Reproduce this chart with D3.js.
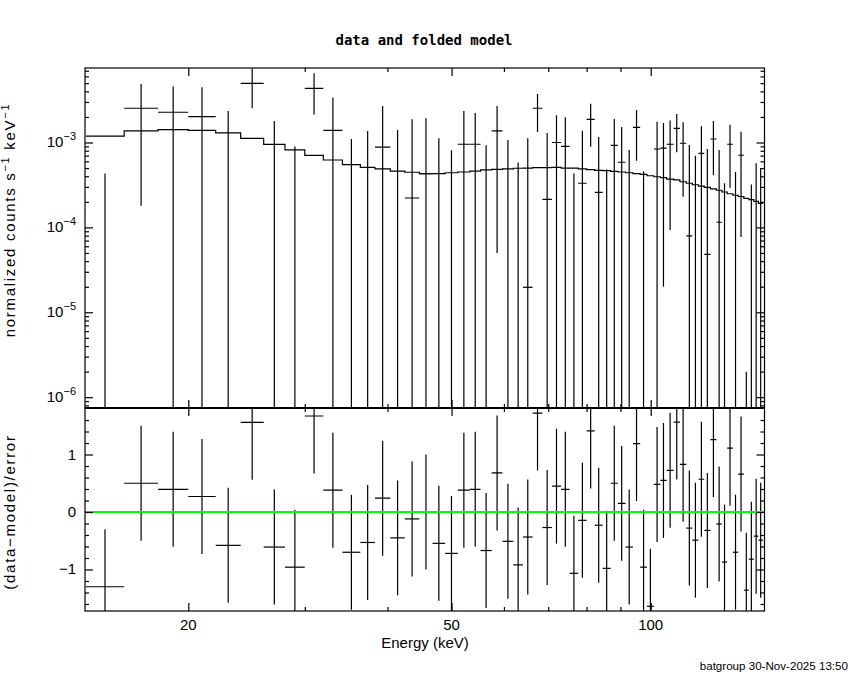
<!DOCTYPE html>
<html>
<head>
<meta charset="utf-8">
<script src="https://cdn.jsdelivr.net/npm/d3@7/dist/d3.min.js"></script>
<style>
body { margin: 0; background: #fff; }
text { font-family: "Liberation Sans", Arial, sans-serif; fill: #000; }
</style>
</head>
<body>
<div id="plot_div"></div>
<script>
// energy bin edges (keV)
var binEdges = [14.0, 16.0, 18.0, 20.0, 22.0, 24.0, 26.0, 28.0, 30.0, 32.0, 34.2, 36.4, 38.3, 40.4, 42.5,
    44.7, 46.8, 48.9, 51.1, 53.3, 55.3, 57.5, 59.7, 62.0, 64.1, 66.3, 68.6, 70.9, 73.2, 75.4,
    77.7, 80.0, 82.3, 84.6, 87.0, 89.2, 91.6, 94.0, 96.4, 98.7, 101.1, 103.4, 105.7, 108.3, 110.7,
    113.2, 115.6, 118.1, 120.5, 123.1, 125.7, 128.1, 130.5, 133.1, 135.6, 138.3, 140.7, 143.2, 145.5, 147.8];
// normalized counts s^-1 keV^-1
var rate = [-2.09e-3, 2.53e-3, 2.27e-3, 2.02e-3, -1.5e-4, 4.98e-3, -3.6e-4, -1.2e-3, 4.34e-3, 1.39e-3,
    -7.4e-4, -4.6e-4, 8.8e-4, -3.1e-4, 2.22e-4, 4.3e-4, -4.0e-4, -5.3e-4, 9.53e-4, 9.53e-4,
    -4.6e-4, 1.37e-3, -1.2e-4, -5.2e-4, 1.97e-5, 2.53e-3, 2.14e-4, 1.0e-3, 9.02e-4, -6.9e-4,
    3.31e-4, 1.87e-3, 2.59e-4, -4.65e-4, 9.27e-4, 5.85e-4, -1.45e-4, 1.51e-3, -4.42e-4, -1.07e-3,
    8.38e-4, 8.6e-4, 9.53e-4, 1.47e-3, 9.8e-4, 7.93e-5, -5.0e-5, 7.46e-4, 4.82e-5, 1.1e-3,
    1.15e-4, -2.2e-4, 9.53e-4, -2.6e-4, 7.07e-4, -6.04e-4, -3.0e-4, -6.1e-5, -1.0e-4];
var rateErr = [2.52e-3, 2.35e-3, 2.31e-3, 2.45e-3, 2.5e-3, 2.45e-3, 2.15e-3, 2.1e-3, 2.2e-3, 2.0e-3,
    1.84e-3, 1.83e-3, 1.81e-3, 1.71e-3, 1.65e-3, 1.5e-3, 1.52e-3, 1.34e-3, 1.4e-3, 1.27e-3,
    1.39e-3, 1.32e-3, 1.19e-3, 1.1e-3, 1.1e-3, 1.2e-3, 1.08e-3, 1.1e-3, 1.08e-3, 1.12e-3,
    1.04e-3, 9.8e-4, 9.0e-4, 9.5e-4, 9.6e-4, 9.35e-4, 9.6e-4, 9.0e-4, 9.0e-4, 9.0e-4,
    9.2e-4, 8.4e-4, 8.6e-4, 7.0e-4, 7.5e-4, 8.56e-4, 7.5e-4, 8.1e-4, 7.9e-4, 6.9e-4,
    7.0e-4, 5.5e-4, 6.6e-4, 7.1e-4, 6.3e-4, 6.06e-4, 6.2e-4, 6.3e-4, 6.0e-4];
// folded model
var model = [1.19e-3, 1.37e-3, 1.42e-3, 1.39e-3, 1.30e-3, 1.12e-3, 9.5e-4, 8.2e-4, 7.07e-4, 6.22e-4,
    5.48e-4, 5.1e-4, 4.88e-4, 4.61e-4, 4.46e-4, 4.3e-4, 4.3e-4, 4.4e-4, 4.49e-4, 4.61e-4,
    4.75e-4, 4.83e-4, 4.88e-4, 4.97e-4, 5.0e-4, 5.05e-4, 5.06e-4, 5.08e-4, 5.0e-4, 5.0e-4,
    4.88e-4, 4.79e-4, 4.7e-4, 4.66e-4, 4.58e-4, 4.49e-4, 4.4e-4, 4.29e-4, 4.22e-4, 4.06e-4,
    3.95e-4, 3.85e-4, 3.71e-4, 3.62e-4, 3.45e-4, 3.31e-4, 3.18e-4, 3.07e-4, 2.96e-4, 2.84e-4,
    2.74e-4, 2.61e-4, 2.49e-4, 2.39e-4, 2.31e-4, 2.2e-4, 2.12e-4, 2.02e-4, 1.92e-4];
// (data-model)/error
var resid = [-1.30, 0.50, 0.395, 0.27, -0.58, 1.56, -0.61, -0.96, 1.67, 0.38,
    -0.70, -0.53, 0.24, -0.45, -0.12, 0.0, -0.545, -0.72, 0.38, 0.395,
    -0.67, 0.68, -0.51, -0.92, -0.435, 1.72, -0.27, 0.45, 0.395, -1.066,
    -0.145, 1.41, -0.23, -0.98, 0.50, 0.15, -0.61, 1.19, -0.96, -1.64,
    0.48, 0.55, 0.725, 1.565, 0.83, -0.28, -0.49, 0.57, -0.32, 1.26,
    -0.21, -0.87, 1.11, -0.70, 0.66, -1.36, -0.82, -0.42, -0.49];

var xMajorTicks = [20, 50, 100];
var xMinorTicks = [30, 40, 60, 70, 80, 90];
var yDecades = [-3, -4, -5, -6];
var residMajorTicks = [-1, 0, 1];

var spec_plot = {
    svg: 0,
    bins: 0,
    x: 0,
    y_top: 0,
    y_bot: 0,
    left: 85,
    right: 764.5,
    top: 68,
    mid: 408,
    bottom: 611,
    initialize: function() {
        var self = this;
        self.svg = d3.select("#plot_div").append("svg")
            .attr("width", 850)
            .attr("height", 680);
        self.bins = [];
        for (var i = 0; i < rate.length; i++) {
            self.bins.push({
                lo: binEdges[i],
                hi: binEdges[i + 1],
                mid: Math.sqrt(binEdges[i] * binEdges[i + 1]),
                rate: rate[i],
                err: rateErr[i],
                model: model[i],
                resid: resid[i]
            });
        }
        self.x = d3.scaleLog().domain([13.96, 148.6]).range([self.left, self.right]);
        self.y_top = d3.scaleLog().domain([7.46e-7, 7.54e-3]).range([self.mid, self.top]);
        self.y_bot = d3.scaleLinear().domain([-1.722, 1.809]).range([self.bottom, self.mid]);

        var defs = self.svg.append("defs");
        defs.append("clipPath").attr("id", "clip_top").append("rect")
            .attr("x", self.left).attr("y", self.top)
            .attr("width", self.right - self.left).attr("height", self.mid - self.top);
        defs.append("clipPath").attr("id", "clip_bot").append("rect")
            .attr("x", self.left).attr("y", self.mid)
            .attr("width", self.right - self.left).attr("height", self.bottom - self.mid);
    },
    draw_top: function() {
        var self = this;
        var g = self.svg.append("g").attr("clip-path", "url(#clip_top)");
        var floor = 1e-9;

        // model histogram
        var pts = [];
        self.bins.forEach(function(d) {
            pts.push([d.lo, d.model]);
            pts.push([d.hi, d.model]);
        });
        g.append("path")
            .attr("d", d3.line()
                .x(function(p) { return self.x(p[0]); })
                .y(function(p) { return self.y_top(p[1]); })(pts))
            .attr("fill", "none")
            .attr("stroke", "black")
            .attr("stroke-width", 1.2);

        // data crosses
        g.selectAll(".xbar").data(self.bins.filter(function(d) { return d.rate > 0; }))
            .enter().append("line")
            .attr("x1", function(d) { return self.x(d.lo); })
            .attr("x2", function(d) { return self.x(d.hi); })
            .attr("y1", function(d) { return self.y_top(d.rate); })
            .attr("y2", function(d) { return self.y_top(d.rate); })
            .attr("stroke", "black")
            .attr("stroke-width", 1.2);
        g.selectAll(".ybar").data(self.bins.filter(function(d) { return d.rate + d.err > 0; }))
            .enter().append("line")
            .attr("x1", function(d) { return self.x(d.mid); })
            .attr("x2", function(d) { return self.x(d.mid); })
            .attr("y1", function(d) { return self.y_top(Math.max(d.rate - d.err, floor)); })
            .attr("y2", function(d) { return self.y_top(d.rate + d.err); })
            .attr("stroke", "black")
            .attr("stroke-width", 1.2);
    },
    draw_bottom: function() {
        var self = this;
        var g = self.svg.append("g").attr("clip-path", "url(#clip_bot)");
        g.selectAll(".xbar").data(self.bins)
            .enter().append("line")
            .attr("x1", function(d) { return self.x(d.lo); })
            .attr("x2", function(d) { return self.x(d.hi); })
            .attr("y1", function(d) { return self.y_bot(d.resid); })
            .attr("y2", function(d) { return self.y_bot(d.resid); })
            .attr("stroke", "black")
            .attr("stroke-width", 1.2);
        g.selectAll(".ybar").data(self.bins)
            .enter().append("line")
            .attr("x1", function(d) { return self.x(d.mid); })
            .attr("x2", function(d) { return self.x(d.mid); })
            .attr("y1", function(d) { return self.y_bot(d.resid - 1); })
            .attr("y2", function(d) { return self.y_bot(d.resid + 1); })
            .attr("stroke", "black")
            .attr("stroke-width", 1.2);
        g.append("line")
            .attr("x1", self.left).attr("x2", self.right)
            .attr("y1", self.y_bot(0)).attr("y2", self.y_bot(0))
            .attr("stroke", "#00ff00")
            .attr("stroke-width", 2.2);
    },
    tick_group: function(axis, tx, ty) {
        var self = this;
        var g = self.svg.append("g")
            .attr("transform", "translate(" + tx + "," + ty + ")")
            .call(axis);
        g.select(".domain").remove();
        g.selectAll("line").attr("stroke", "black").attr("stroke-width", 1.2);
        g.selectAll("text").remove();
        return g;
    },
    draw_axes: function() {
        var self = this;
        var yMinor = [];
        for (var k = -7; k <= -3; k++) {
            for (var j = 2; j <= 9; j++) {
                var v = j * Math.pow(10, k);
                if (v > 7.46e-7 && v < 7.54e-3) yMinor.push(v);
            }
        }
        var yMajor = yDecades.map(function(e) { return Math.pow(10, e); });
        var rMinor = [];
        for (var r = -16; r <= 16; r += 2) {
            if (r % 10 != 0) rMinor.push(r / 10);
        }

        // x ticks on both panels, top and bottom edges
        [self.top, self.mid].forEach(function(yy) {
            self.tick_group(d3.axisBottom(self.x).tickValues(xMajorTicks).tickSizeInner(8).tickSizeOuter(0), 0, yy);
            self.tick_group(d3.axisBottom(self.x).tickValues(xMinorTicks).tickSizeInner(4).tickSizeOuter(0), 0, yy);
        });
        [self.mid, self.bottom].forEach(function(yy) {
            self.tick_group(d3.axisTop(self.x).tickValues(xMajorTicks).tickSizeInner(8).tickSizeOuter(0), 0, yy);
            self.tick_group(d3.axisTop(self.x).tickValues(xMinorTicks).tickSizeInner(4).tickSizeOuter(0), 0, yy);
        });
        // y ticks, left and right
        self.tick_group(d3.axisRight(self.y_top).tickValues(yMajor).tickSizeInner(8).tickSizeOuter(0), self.left, 0);
        self.tick_group(d3.axisRight(self.y_top).tickValues(yMinor).tickSizeInner(4).tickSizeOuter(0), self.left, 0);
        self.tick_group(d3.axisLeft(self.y_top).tickValues(yMajor).tickSizeInner(8).tickSizeOuter(0), self.right, 0);
        self.tick_group(d3.axisLeft(self.y_top).tickValues(yMinor).tickSizeInner(4).tickSizeOuter(0), self.right, 0);
        self.tick_group(d3.axisRight(self.y_bot).tickValues(residMajorTicks).tickSizeInner(8).tickSizeOuter(0), self.left, 0);
        self.tick_group(d3.axisRight(self.y_bot).tickValues(rMinor).tickSizeInner(4).tickSizeOuter(0), self.left, 0);
        self.tick_group(d3.axisLeft(self.y_bot).tickValues(residMajorTicks).tickSizeInner(8).tickSizeOuter(0), self.right, 0);
        self.tick_group(d3.axisLeft(self.y_bot).tickValues(rMinor).tickSizeInner(4).tickSizeOuter(0), self.right, 0);

        // frames
        self.svg.append("rect")
            .attr("x", self.left).attr("y", self.top)
            .attr("width", self.right - self.left).attr("height", self.mid - self.top)
            .attr("fill", "none").attr("stroke", "black").attr("stroke-width", 1.2);
        self.svg.append("rect")
            .attr("x", self.left).attr("y", self.mid)
            .attr("width", self.right - self.left).attr("height", self.bottom - self.mid)
            .attr("fill", "none").attr("stroke", "black").attr("stroke-width", 1.2);
        self.svg.append("line")
            .attr("x1", self.left).attr("x2", self.right)
            .attr("y1", self.mid).attr("y2", self.mid)
            .attr("stroke", "black").attr("stroke-width", 2.2);

        // tick labels
        yDecades.forEach(function(e) {
            var t = self.svg.append("text")
                .attr("x", 76)
                .attr("y", self.y_top(Math.pow(10, e)) + 5)
                .attr("text-anchor", "end")
                .attr("font-size", 15);
            t.append("tspan").text("10");
            t.append("tspan").attr("dy", -7).attr("font-size", 11).text("\u2212" + Math.abs(e));
        });
        residMajorTicks.forEach(function(v) {
            self.svg.append("text")
                .attr("x", 76)
                .attr("y", self.y_bot(v) + 5)
                .attr("text-anchor", "end")
                .attr("font-size", 15)
                .text(v < 0 ? "\u2212" + Math.abs(v) : v);
        });
        xMajorTicks.forEach(function(v) {
            self.svg.append("text")
                .attr("x", self.x(v))
                .attr("y", 630)
                .attr("text-anchor", "middle")
                .attr("font-size", 15)
                .text(v);
        });
    },
    draw_labels: function() {
        var self = this;
        self.svg.append("text")
            .attr("x", 424).attr("y", 45)
            .attr("text-anchor", "middle")
            .attr("font-size", 14)
            .attr("font-weight", "bold")
            .style("font-family", "'DejaVu Sans Mono', monospace")
            .text("data and folded model");
        self.svg.append("text")
            .attr("x", 425).attr("y", 648)
            .attr("text-anchor", "middle")
            .attr("font-size", 15)
            .text("Energy (keV)");
        var yl = self.svg.append("text")
            .attr("transform", "translate(14.5,220) rotate(-90)")
            .attr("text-anchor", "middle")
            .attr("font-size", 15)
            .attr("letter-spacing", 1.7);
        yl.append("tspan").text("normalized counts s");
        yl.append("tspan").attr("dy", -6).attr("font-size", 11).text("\u22121");
        yl.append("tspan").attr("dy", 6).text(" keV");
        yl.append("tspan").attr("dy", -6).attr("font-size", 11).text("\u22121");
        self.svg.append("text")
            .attr("transform", "translate(14.5,512) rotate(-90)")
            .attr("text-anchor", "middle")
            .attr("font-size", 15)
            .attr("letter-spacing", 1.7)
            .text("(data\u2212model)/error");
        self.svg.append("text")
            .attr("x", 848).attr("y", 670)
            .attr("text-anchor", "end")
            .attr("font-size", 11.6)
            .text("batgroup 30-Nov-2025 13:50");
    }
};

spec_plot.initialize();
spec_plot.draw_top();
spec_plot.draw_bottom();
spec_plot.draw_axes();
spec_plot.draw_labels();
</script>
</body>
</html>
